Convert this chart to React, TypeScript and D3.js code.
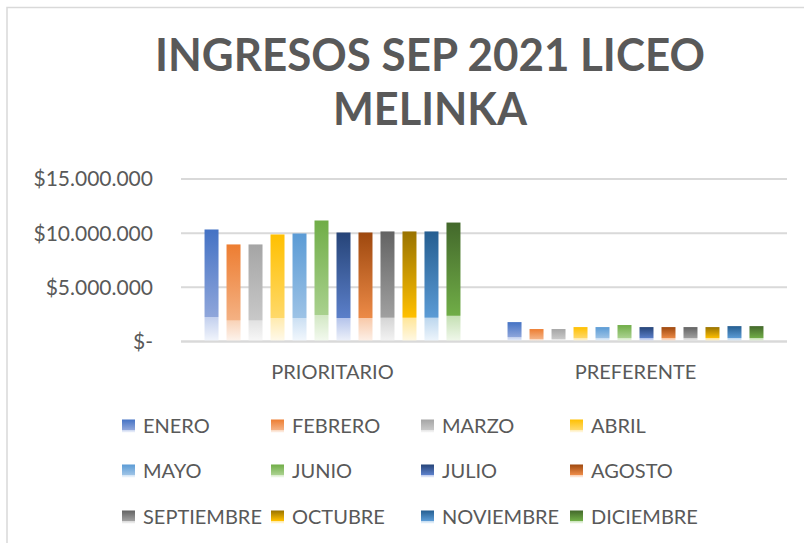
import React from "react";
import * as d3 from "d3";

const categories = ["PRIORITARIO", "PREFERENTE"];
const months = [
  "ENERO", "FEBRERO", "MARZO", "ABRIL", "MAYO", "JUNIO",
  "JULIO", "AGOSTO", "SEPTIEMBRE", "OCTUBRE", "NOVIEMBRE", "DICIEMBRE",
];
const prioritario = [
  10340000, 8960000, 8960000, 9880000, 9970000, 11170000,
  10060000, 10060000, 10160000, 10160000, 10160000, 10980000,
];
const preferente = [
  1790000, 1150000, 1150000, 1330000, 1330000, 1520000,
  1330000, 1330000, 1330000, 1330000, 1420000, 1420000,
];
const yTicks = [0, 5000000, 10000000, 15000000];
const titleLines = ["INGRESOS SEP 2021 LICEO", "MELINKA"];

// [top, mid, paleStart, paleEnd]
const gradients: string[][] = [
  ["#4472C4", "#8FA6DB", "#C3D0EE", "#F3F6FC"],
  ["#ED7D31", "#F4B183", "#F9D3B8", "#FDF4EE"],
  ["#A5A5A5", "#C8C8C8", "#E2E2E2", "#F8F8F8"],
  ["#FFC000", "#FFD96A", "#FFEBB0", "#FFFAEC"],
  ["#5B9BD5", "#9DC3E6", "#CCE0F3", "#F3F8FD"],
  ["#70AD47", "#A9D18E", "#D3E8C5", "#F4FAF0"],
  ["#264478", "#5B7FC9", "#B5C4EB", "#EFF2FA"],
  ["#9E480E", "#EC8A47", "#F8C9A9", "#FDF1E9"],
  ["#636363", "#A0A0A0", "#D5D5D5", "#F4F4F4"],
  ["#997300", "#FFC000", "#FFE69A", "#FFF9E6"],
  ["#255E91", "#5B9BD5", "#BDD7EE", "#EFF6FC"],
  ["#43682B", "#70AD47", "#C5E0B4", "#F1F8EC"],
];

const seriesByCategory = [prioritario, preferente];

const W = 804;
const H = 543;
const textColor = "#595959";
const font = "Lato, 'Open Sans', sans-serif";

export default function App() {
  const x0 = d3.scaleBand<string>().domain(categories).range([181, 787]).padding(0);
  const x1 = d3
    .scaleBand<string>()
    .domain(months)
    .range([0, x0.bandwidth()])
    .paddingInner(0.364)
    .paddingOuter(1.07);
  const y = d3.scaleLinear().domain([0, 15000000]).range([341.5, 179]);

  const fmt = (v: number) =>
    v === 0 ? "$-" : "$" + d3.format(",")(v).replace(/,/g, ".");

  const legendCols = [122, 271, 421, 570];
  const legendRows = [426, 471, 517];

  return (
    <svg
      width={W}
      height={H}
      style={{ position: "absolute", left: 0, top: 0, background: "#fff" }}
      fontFamily={font}
    >
      <defs>
        {gradients.map((g, i) => (
          <linearGradient key={i} id={`grad${i}`} x1="0" y1="0" x2="0" y2="1">
            <stop offset="0" stopColor={g[0]} />
            <stop offset="0.78" stopColor={g[1]} />
            <stop offset="0.785" stopColor={g[2]} />
            <stop offset="1" stopColor={g[3]} />
          </linearGradient>
        ))}
      </defs>
      <rect x={0} y={0} width={W} height={H} fill="#fff" />
      <rect
        x={7}
        y={7.5}
        width={W + 20}
        height={H + 20}
        fill="none"
        stroke="#d9d9d9"
        strokeWidth={1.5}
      />
      {titleLines.map((t, i) => (
        <text
          key={t}
          x={430}
          y={i === 0 ? 71 : 125}
          textAnchor="middle"
          fontSize={45}
          fontWeight="bold"
          fill={textColor}
          textLength={i === 0 ? 550 : 194}
          lengthAdjust="spacingAndGlyphs"
        >
          {t}
        </text>
      ))}
      {yTicks.map((t) => (
        <g key={t}>
          <line
            x1={181}
            x2={787}
            y1={y(t)}
            y2={y(t)}
            stroke="#d9d9d9"
            strokeWidth={2}
          />
          <text
            x={153}
            y={y(t)}
            dy="0.35em"
            textAnchor="end"
            fontSize={21}
            fill={textColor}
          >
            {fmt(t)}
          </text>
        </g>
      ))}
      {categories.map((c, ci) => (
        <g key={c} transform={`translate(${x0(c)},0)`}>
          {months.map((m, mi) => {
            const v = seriesByCategory[ci][mi];
            return (
              <rect
                key={m}
                x={x1(m)}
                y={y(v)}
                width={x1.bandwidth()}
                height={y(0) - y(v)}
                fill={`url(#grad${mi})`}
              />
            );
          })}
          <text
            x={x0.bandwidth() / 2}
            y={371.5}
            dy="0.35em"
            textAnchor="middle"
            fontSize={20}
            fill={textColor}
          >
            {c}
          </text>
        </g>
      ))}
      <line x1={181} x2={787} y1={y(0)} y2={y(0)} stroke="#d9d9d9" strokeWidth={2} />
      {months.map((m, i) => {
        const cx = legendCols[i % 4];
        const cy = legendRows[Math.floor(i / 4)];
        return (
          <g key={m}>
            <rect x={cx} y={cy - 6.5} width={13} height={13} fill={`url(#grad${i})`} />
            <text x={cx + 21} y={cy} dy="0.36em" fontSize={20} fill={textColor}>
              {m}
            </text>
          </g>
        );
      })}
    </svg>
  );
}
